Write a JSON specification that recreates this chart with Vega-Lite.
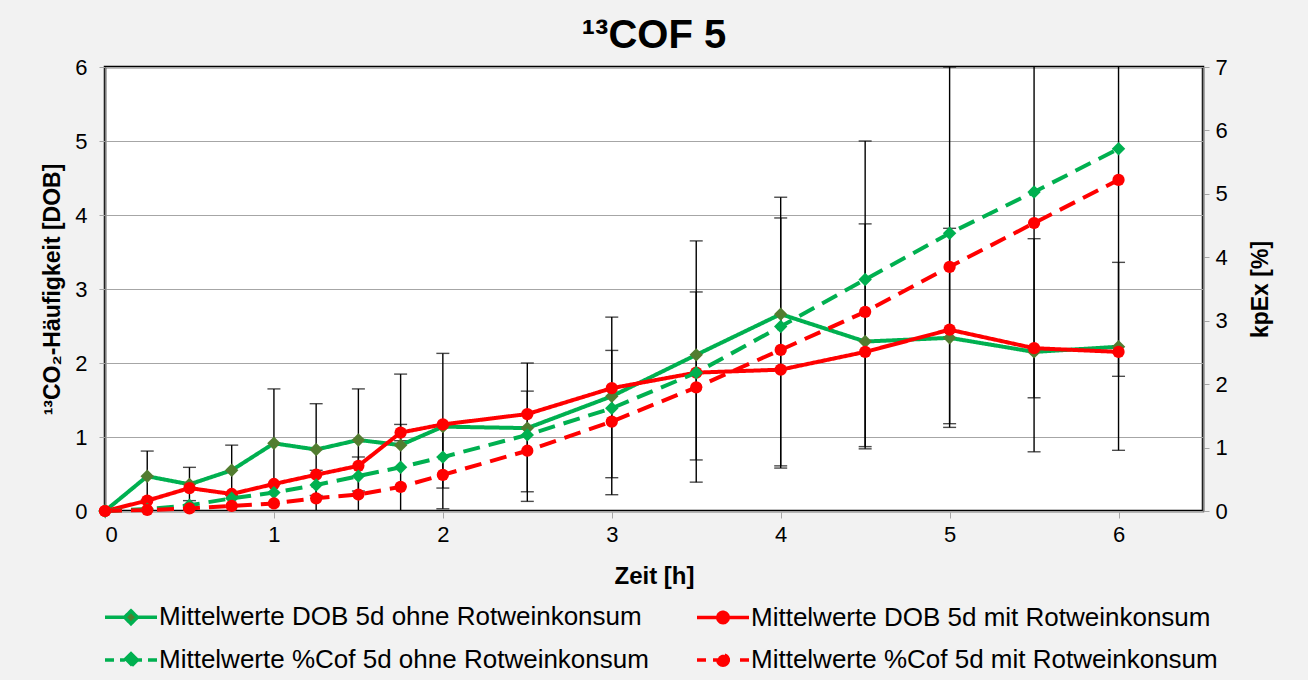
{
  "$schema": "https://vega.github.io/schema/vega-lite/v6.json",
  "width": 1098,
  "height": 444,
  "autosize": "none",
  "padding": {"left": 105, "top": 67, "right": 105, "bottom": 169},
  "background": "#f2f2f2",
  "title": {"text": "¹³COF 5", "fontSize": 40, "font": "Liberation Sans", "fontWeight": "bold", "color": "#000", "anchor": "middle", "offset": 0},
  "config": {
    "font": "Liberation Sans",
    "view": {"stroke": "#000", "strokeWidth": 2.5, "fill": "#fff"}
  },
  "datasets": {
    "dob": [
      {"t": 0, "s": "Mittelwerte DOB 5d ohne Rotweinkonsum", "v": 0},
      {"t": 0.25, "s": "Mittelwerte DOB 5d ohne Rotweinkonsum", "v": 0.47},
      {"t": 0.5, "s": "Mittelwerte DOB 5d ohne Rotweinkonsum", "v": 0.36},
      {"t": 0.75, "s": "Mittelwerte DOB 5d ohne Rotweinkonsum", "v": 0.55},
      {"t": 1, "s": "Mittelwerte DOB 5d ohne Rotweinkonsum", "v": 0.915},
      {"t": 1.25, "s": "Mittelwerte DOB 5d ohne Rotweinkonsum", "v": 0.83},
      {"t": 1.5, "s": "Mittelwerte DOB 5d ohne Rotweinkonsum", "v": 0.96},
      {"t": 1.75, "s": "Mittelwerte DOB 5d ohne Rotweinkonsum", "v": 0.89},
      {"t": 2, "s": "Mittelwerte DOB 5d ohne Rotweinkonsum", "v": 1.14},
      {"t": 2.5, "s": "Mittelwerte DOB 5d ohne Rotweinkonsum", "v": 1.12},
      {"t": 3, "s": "Mittelwerte DOB 5d ohne Rotweinkonsum", "v": 1.55},
      {"t": 3.5, "s": "Mittelwerte DOB 5d ohne Rotweinkonsum", "v": 2.11},
      {"t": 4, "s": "Mittelwerte DOB 5d ohne Rotweinkonsum", "v": 2.66},
      {"t": 4.5, "s": "Mittelwerte DOB 5d ohne Rotweinkonsum", "v": 2.29},
      {"t": 5, "s": "Mittelwerte DOB 5d ohne Rotweinkonsum", "v": 2.34},
      {"t": 5.5, "s": "Mittelwerte DOB 5d ohne Rotweinkonsum", "v": 2.15},
      {"t": 6, "s": "Mittelwerte DOB 5d ohne Rotweinkonsum", "v": 2.22},
      {"t": 0, "s": "Mittelwerte DOB 5d mit Rotweinkonsum", "v": 0},
      {"t": 0.25, "s": "Mittelwerte DOB 5d mit Rotweinkonsum", "v": 0.14},
      {"t": 0.5, "s": "Mittelwerte DOB 5d mit Rotweinkonsum", "v": 0.31},
      {"t": 0.75, "s": "Mittelwerte DOB 5d mit Rotweinkonsum", "v": 0.23},
      {"t": 1, "s": "Mittelwerte DOB 5d mit Rotweinkonsum", "v": 0.365},
      {"t": 1.25, "s": "Mittelwerte DOB 5d mit Rotweinkonsum", "v": 0.49},
      {"t": 1.5, "s": "Mittelwerte DOB 5d mit Rotweinkonsum", "v": 0.61},
      {"t": 1.75, "s": "Mittelwerte DOB 5d mit Rotweinkonsum", "v": 1.06},
      {"t": 2, "s": "Mittelwerte DOB 5d mit Rotweinkonsum", "v": 1.17},
      {"t": 2.5, "s": "Mittelwerte DOB 5d mit Rotweinkonsum", "v": 1.31},
      {"t": 3, "s": "Mittelwerte DOB 5d mit Rotweinkonsum", "v": 1.66},
      {"t": 3.5, "s": "Mittelwerte DOB 5d mit Rotweinkonsum", "v": 1.87},
      {"t": 4, "s": "Mittelwerte DOB 5d mit Rotweinkonsum", "v": 1.91},
      {"t": 4.5, "s": "Mittelwerte DOB 5d mit Rotweinkonsum", "v": 2.15},
      {"t": 5, "s": "Mittelwerte DOB 5d mit Rotweinkonsum", "v": 2.45},
      {"t": 5.5, "s": "Mittelwerte DOB 5d mit Rotweinkonsum", "v": 2.2},
      {"t": 6, "s": "Mittelwerte DOB 5d mit Rotweinkonsum", "v": 2.15}
    ],
    "cof": [
      {"t": 0, "s": "Mittelwerte %Cof 5d ohne Rotweinkonsum", "v": 0},
      {"t": 0.25, "s": "Mittelwerte %Cof 5d ohne Rotweinkonsum", "v": 0.03},
      {"t": 0.5, "s": "Mittelwerte %Cof 5d ohne Rotweinkonsum", "v": 0.09},
      {"t": 0.75, "s": "Mittelwerte %Cof 5d ohne Rotweinkonsum", "v": 0.2},
      {"t": 1, "s": "Mittelwerte %Cof 5d ohne Rotweinkonsum", "v": 0.29},
      {"t": 1.25, "s": "Mittelwerte %Cof 5d ohne Rotweinkonsum", "v": 0.41},
      {"t": 1.5, "s": "Mittelwerte %Cof 5d ohne Rotweinkonsum", "v": 0.55},
      {"t": 1.75, "s": "Mittelwerte %Cof 5d ohne Rotweinkonsum", "v": 0.69},
      {"t": 2, "s": "Mittelwerte %Cof 5d ohne Rotweinkonsum", "v": 0.85},
      {"t": 2.5, "s": "Mittelwerte %Cof 5d ohne Rotweinkonsum", "v": 1.2},
      {"t": 3, "s": "Mittelwerte %Cof 5d ohne Rotweinkonsum", "v": 1.62},
      {"t": 3.5, "s": "Mittelwerte %Cof 5d ohne Rotweinkonsum", "v": 2.18},
      {"t": 4, "s": "Mittelwerte %Cof 5d ohne Rotweinkonsum", "v": 2.91},
      {"t": 4.5, "s": "Mittelwerte %Cof 5d ohne Rotweinkonsum", "v": 3.65},
      {"t": 5, "s": "Mittelwerte %Cof 5d ohne Rotweinkonsum", "v": 4.38},
      {"t": 5.5, "s": "Mittelwerte %Cof 5d ohne Rotweinkonsum", "v": 5.03},
      {"t": 6, "s": "Mittelwerte %Cof 5d ohne Rotweinkonsum", "v": 5.71},
      {"t": 0, "s": "Mittelwerte %Cof 5d mit Rotweinkonsum", "v": 0},
      {"t": 0.25, "s": "Mittelwerte %Cof 5d mit Rotweinkonsum", "v": 0.016},
      {"t": 0.5, "s": "Mittelwerte %Cof 5d mit Rotweinkonsum", "v": 0.04},
      {"t": 0.75, "s": "Mittelwerte %Cof 5d mit Rotweinkonsum", "v": 0.08},
      {"t": 1, "s": "Mittelwerte %Cof 5d mit Rotweinkonsum", "v": 0.12},
      {"t": 1.25, "s": "Mittelwerte %Cof 5d mit Rotweinkonsum", "v": 0.2},
      {"t": 1.5, "s": "Mittelwerte %Cof 5d mit Rotweinkonsum", "v": 0.26},
      {"t": 1.75, "s": "Mittelwerte %Cof 5d mit Rotweinkonsum", "v": 0.38},
      {"t": 2, "s": "Mittelwerte %Cof 5d mit Rotweinkonsum", "v": 0.57},
      {"t": 2.5, "s": "Mittelwerte %Cof 5d mit Rotweinkonsum", "v": 0.95},
      {"t": 3, "s": "Mittelwerte %Cof 5d mit Rotweinkonsum", "v": 1.41},
      {"t": 3.5, "s": "Mittelwerte %Cof 5d mit Rotweinkonsum", "v": 1.95},
      {"t": 4, "s": "Mittelwerte %Cof 5d mit Rotweinkonsum", "v": 2.54},
      {"t": 4.5, "s": "Mittelwerte %Cof 5d mit Rotweinkonsum", "v": 3.14},
      {"t": 5, "s": "Mittelwerte %Cof 5d mit Rotweinkonsum", "v": 3.85},
      {"t": 5.5, "s": "Mittelwerte %Cof 5d mit Rotweinkonsum", "v": 4.54},
      {"t": 6, "s": "Mittelwerte %Cof 5d mit Rotweinkonsum", "v": 5.22}
    ],
    "err": [
      {"t": 0.25, "lo": 0.15, "hi": 0.81},
      {"t": 0.5, "lo": 0.14, "hi": 0.59},
      {"t": 0.75, "lo": 0.21, "hi": 0.89},
      {"t": 1, "lo": 0.36, "hi": 1.65},
      {"t": 1.25, "lo": 0.21, "hi": 1.45},
      {"t": 1.25, "lo": 0, "hi": 0.55},
      {"t": 1.5, "lo": 0.27, "hi": 1.65},
      {"t": 1.5, "lo": 0, "hi": 0.73},
      {"t": 1.75, "lo": 0, "hi": 1.85},
      {"t": 1.75, "lo": 0.95, "hi": 1.17},
      {"t": 2, "lo": 0.31, "hi": 2.13},
      {"t": 2, "lo": 0.03, "hi": 1.16},
      {"t": 2.5, "lo": 0.26, "hi": 2.0},
      {"t": 2.5, "lo": 0.13, "hi": 1.62},
      {"t": 3, "lo": 0.45, "hi": 2.62},
      {"t": 3, "lo": 0.22, "hi": 2.17},
      {"t": 3.5, "lo": 0.39, "hi": 3.65},
      {"t": 3.5, "lo": 0.69, "hi": 2.96},
      {"t": 4, "lo": 0.58, "hi": 4.24},
      {"t": 4, "lo": 0.61, "hi": 3.96},
      {"t": 4.5, "lo": 0.84, "hi": 5.0},
      {"t": 4.5, "lo": 0.87, "hi": 3.88},
      {"t": 5, "lo": 1.18, "hi": 6.0},
      {"t": 5, "lo": 1.13, "hi": 3.82},
      {"t": 5.5, "lo": 0.8, "hi": 6.6},
      {"t": 5.5, "lo": 1.53, "hi": 3.68},
      {"t": 6, "lo": 0.82, "hi": 6.6},
      {"t": 6, "lo": 1.82, "hi": 3.36}
    ]
  },
  "encoding": {
    "x": {
      "field": "t", "type": "quantitative",
      "scale": {"domain": [0, 6.5], "nice": false, "zero": false},
      "axis": {
        "values": [0, 1, 2, 3, 4, 5, 6], "title": "Zeit [h]", "grid": false, "domain": false,
        "tickColor": "#a6a6a6", "tickSize": 7, "labelFontSize": 22, "labelColor": "#000", "labelPadding": 6,
        "titleFontSize": 24, "titleFontWeight": "bold", "titleColor": "#000", "titlePadding": 19
      }
    }
  },
  "layer": [
    {
      "data": {"name": "err"},
      "mark": {"type": "rule", "color": "#000", "strokeWidth": 1.4, "clip": true},
      "encoding": {
        "y": {"field": "lo", "type": "quantitative", "scale": {"domain": [0, 6], "nice": false}, "axis": null},
        "y2": {"field": "hi"}
      }
    },
    {
      "data": {"name": "err"},
      "mark": {"type": "tick", "orient": "horizontal", "color": "#000", "thickness": 1.4, "size": 13, "clip": true},
      "encoding": {
        "y": {"field": "lo", "type": "quantitative", "scale": {"domain": [0, 6], "nice": false}, "axis": null}
      }
    },
    {
      "data": {"name": "err"},
      "mark": {"type": "tick", "orient": "horizontal", "color": "#000", "thickness": 1.4, "size": 13, "clip": true},
      "encoding": {
        "y": {"field": "hi", "type": "quantitative", "scale": {"domain": [0, 6], "nice": false}, "axis": null}
      }
    },
    {
      "data": {"name": "dob"},
      "mark": {"type": "line", "strokeWidth": 4},
      "encoding": {
        "y": {
          "field": "v", "type": "quantitative", "scale": {"domain": [0, 6], "nice": false},
          "axis": {
            "orient": "left", "values": [0, 1, 2, 3, 4, 5, 6], "title": "¹³CO₂-Häufigkeit [DOB]",
            "grid": true, "gridColor": "#a6a6a6", "gridWidth": 1.2, "domainColor": "#808080", "domainWidth": 1.5,
            "tickColor": "#a6a6a6", "tickSize": 6, "labelFontSize": 22, "labelColor": "#000", "labelPadding": 12,
            "titleFontSize": 23, "titleFontWeight": "bold", "titleColor": "#000", "titlePadding": 10
          }
        },
        "color": {
          "field": "s", "type": "nominal",
          "scale": {
            "domain": ["Mittelwerte DOB 5d ohne Rotweinkonsum", "Mittelwerte DOB 5d mit Rotweinkonsum", "Mittelwerte %Cof 5d ohne Rotweinkonsum", "Mittelwerte %Cof 5d mit Rotweinkonsum"],
            "range": ["#00b050", "#ff0000", "#00b050", "#ff0000"]
          },
          "legend": {
            "orient": "none", "legendX": 4, "legendY": 528, "columns": 2, "direction": "horizontal",
            "symbolSize": 1600, "symbolStrokeWidth": 3.5,
            "labelFontSize": 26, "labelFont": "Liberation Sans", "labelColor": "#000", "labelLimit": 0, "labelOffset": 6,
            "columnPadding": 41, "rowPadding": 7, "title": null
          }
        },
        "strokeDash": {
          "field": "s", "type": "nominal", "legend": null,
          "scale": {
            "domain": ["Mittelwerte DOB 5d ohne Rotweinkonsum", "Mittelwerte DOB 5d mit Rotweinkonsum", "Mittelwerte %Cof 5d ohne Rotweinkonsum", "Mittelwerte %Cof 5d mit Rotweinkonsum"],
            "range": [[1, 0], [1, 0], [17, 9], [17, 9]]
          }
        }
      }
    },
    {
      "data": {"name": "dob"},
      "transform": [{"filter": "datum.s == 'Mittelwerte DOB 5d ohne Rotweinkonsum'"}],
      "mark": {"type": "point", "filled": true, "shape": "diamond", "size": 180, "color": "#527d30", "opacity": 1},
      "encoding": {
        "y": {"field": "v", "type": "quantitative", "scale": {"domain": [0, 6], "nice": false}, "axis": null}
      }
    },
    {
      "data": {"name": "dob"},
      "transform": [{"filter": "datum.s == 'Mittelwerte DOB 5d mit Rotweinkonsum'"}],
      "mark": {"type": "point", "filled": true, "shape": "circle", "size": 150, "color": "#ff0000", "opacity": 1},
      "encoding": {
        "y": {"field": "v", "type": "quantitative", "scale": {"domain": [0, 6], "nice": false}, "axis": null}
      }
    },
    {
      "data": {"name": "cof"},
      "mark": {"type": "line", "strokeWidth": 4},
      "encoding": {
        "y": {
          "field": "v", "type": "quantitative", "scale": {"domain": [0, 7], "nice": false},
          "axis": {
            "orient": "right", "values": [0, 1, 2, 3, 4, 5, 6, 7], "title": "kpEx [%]", "titleAngle": 270, "titleBaseline": "top",
            "grid": false, "domainColor": "#808080", "domainWidth": 1.5,
            "tickColor": "#a6a6a6", "tickSize": 6, "labelFontSize": 22, "labelColor": "#000", "labelPadding": 6,
            "titleFontSize": 23, "titleFontWeight": "bold", "titleColor": "#000", "titlePadding": 22
          }
        },
        "color": {
          "field": "s", "type": "nominal",
          "legend": {
            "orient": "none", "legendX": 4, "legendY": 528, "columns": 2, "direction": "horizontal",
            "symbolSize": 1600, "symbolStrokeWidth": 3.5,
            "labelFontSize": 26, "labelFont": "Liberation Sans", "labelColor": "#000", "labelLimit": 0, "labelOffset": 6,
            "columnPadding": 41, "rowPadding": 7, "title": null
          }
        },
        "strokeDash": {"field": "s", "type": "nominal", "legend": null}
      }
    },
    {
      "data": {"name": "cof"},
      "transform": [{"filter": "datum.s == 'Mittelwerte %Cof 5d ohne Rotweinkonsum'"}],
      "mark": {"type": "point", "filled": true, "shape": "diamond", "size": 180, "color": "#00b050", "opacity": 1},
      "encoding": {
        "y": {"field": "v", "type": "quantitative", "scale": {"domain": [0, 7], "nice": false}, "axis": null}
      }
    },
    {
      "data": {"name": "cof"},
      "transform": [{"filter": "datum.s == 'Mittelwerte %Cof 5d mit Rotweinkonsum'"}],
      "mark": {"type": "point", "filled": true, "shape": "circle", "size": 150, "color": "#ff0000", "opacity": 1},
      "encoding": {
        "y": {"field": "v", "type": "quantitative", "scale": {"domain": [0, 7], "nice": false}, "axis": null}
      }
    },
    {
      "data": {"name": "dob"},
      "mark": {"type": "point", "filled": false, "size": 1600, "strokeWidth": 3.5, "opacity": 1, "clip": true},
      "encoding": {
        "y": {"field": "v", "type": "quantitative", "scale": {"domain": [100, 101], "nice": false, "zero": false}, "axis": null},
        "color": {
          "field": "s", "type": "nominal",
          "legend": {
            "orient": "none", "legendX": 4, "legendY": 528, "columns": 2, "direction": "horizontal",
            "symbolSize": 1600, "symbolStrokeWidth": 3.5,
            "labelFontSize": 26, "labelFont": "Liberation Sans", "labelColor": "#000", "labelLimit": 0, "labelOffset": 6,
            "columnPadding": 41, "rowPadding": 7, "title": null
          }
        },
        "shape": {
          "field": "s", "type": "nominal",
          "scale": {
            "domain": ["Mittelwerte DOB 5d ohne Rotweinkonsum", "Mittelwerte DOB 5d mit Rotweinkonsum", "Mittelwerte %Cof 5d ohne Rotweinkonsum", "Mittelwerte %Cof 5d mit Rotweinkonsum"],
            "range": [
              "M-1.3,0H-0.32M0.32,0H1.3M0,-0.32L0.32,0L0,0.32L-0.32,0Z",
              "M-1.3,0H1.3M0.26,0A0.26,0.26,0,1,1,-0.26,0A0.26,0.26,0,1,1,0.26,0Z",
              "M-1.3,0H-0.85M-0.55,0H-0.32M0.32,0H0.55M0.85,0H1.3M0,-0.32L0.32,0L0,0.32L-0.32,0Z",
              "M-1.3,0H-0.85M-0.5,0H0.5M0.85,0H1.3M0.26,0A0.26,0.26,0,1,1,-0.26,0A0.26,0.26,0,1,1,0.26,0Z"
            ]
          },
          "legend": {
            "orient": "none", "legendX": 4, "legendY": 528, "columns": 2, "direction": "horizontal",
            "symbolSize": 1600, "symbolStrokeWidth": 3.5,
            "labelFontSize": 26, "labelFont": "Liberation Sans", "labelColor": "#000", "labelLimit": 0, "labelOffset": 6,
            "columnPadding": 41, "rowPadding": 7, "title": null
          }
        },
        "fill": {
          "field": "s", "type": "nominal",
          "scale": {
            "domain": ["Mittelwerte DOB 5d ohne Rotweinkonsum", "Mittelwerte DOB 5d mit Rotweinkonsum", "Mittelwerte %Cof 5d ohne Rotweinkonsum", "Mittelwerte %Cof 5d mit Rotweinkonsum"],
            "range": ["#527d30", "#ff0000", "#00b050", "#ff0000"]
          },
          "legend": {
            "orient": "none", "legendX": 4, "legendY": 528, "columns": 2, "direction": "horizontal",
            "symbolSize": 1600, "symbolStrokeWidth": 3.5,
            "labelFontSize": 26, "labelFont": "Liberation Sans", "labelColor": "#000", "labelLimit": 0, "labelOffset": 6,
            "columnPadding": 41, "rowPadding": 7, "title": null
          }
        }
      }
    }
  ],
  "resolve": {"scale": {"y": "independent"}}
}
